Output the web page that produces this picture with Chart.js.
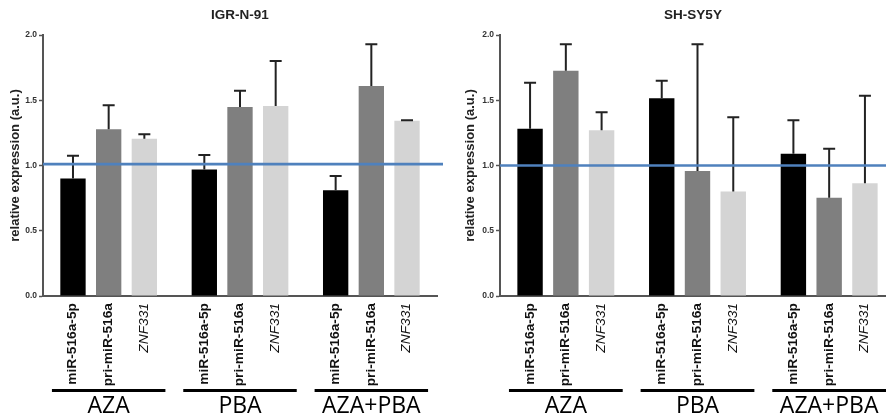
<!DOCTYPE html>
<html>
<head>
<meta charset="utf-8">
<script src="https://cdn.jsdelivr.net/npm/chart.js@4.4.1/dist/chart.umd.min.js"></script>
<style>
    html, body { margin: 0; padding: 0; background: #fff; }
    #wrap { display: flex; width: 886px; height: 419px; }
    .panel { position: relative; width: 443px; height: 419px; overflow: hidden; }
    .inner { position: absolute; left: 0; top: 0; height: 419px; }
</style>
</head>
<body>
<div id="wrap">
    <div class="panel"><div class="inner" style="width:443px"><canvas id="igr"></canvas></div></div>
    <div class="panel"><div class="inner" style="width:452px"><canvas id="shsy"></canvas></div></div>
</div>
<script>
// treatments (x groups) and the three measured transcripts
const groups = ['AZA', 'PBA', 'AZA+PBA'];
const series = ['miR-516a-5p', 'pri-miR-516a', 'ZNF331'];
const yTicks = [0, 0.5, 1.0, 1.5, 2.0];

// IGR-N-91: mean values and upper error (SD) per treatment
const igrMir = [0.90, 0.97, 0.81];
const igrMirErr = [0.175, 0.11, 0.11];
const igrPri = [1.277, 1.448, 1.61];
const igrPriErr = [0.185, 0.125, 0.32];
const igrZnf = [1.205, 1.456, 1.343];
const igrZnfErr = [0.035, 0.345, 0.003];

// SH-SY5Y
const shMir = [1.282, 1.515, 1.09];
const shMirErr = [0.353, 0.135, 0.256];
const shPri = [1.727, 0.958, 0.753];
const shPriErr = [0.203, 0.971, 0.376];
const shZnf = [1.27, 0.80, 0.864];
const shZnfErr = [0.138, 0.569, 0.671];

const barColors = ['#000000', '#7f7f7f', '#d4d4d4'];
const axisColor = '#555';
const family = '"Liberation Sans", Arial, sans-serif';

// error bars, reference line, rotated bar labels, group lines, title
const decor = {
    id: 'decor',
    afterDatasetsDraw(chart, args, opts) {
        const ctx = chart.ctx;
        const y = chart.scales.y;
        ctx.save();
        ctx.strokeStyle = '#222';
        ctx.lineWidth = 2;
        chart.data.datasets.forEach((ds, i) => {
            chart.getDatasetMeta(i).data.forEach((bar, j) => {
                const top = y.getPixelForValue(ds.data[j] + ds.errors[j]);
                ctx.beginPath();
                ctx.moveTo(bar.x, bar.y);
                ctx.lineTo(bar.x, top);
                ctx.moveTo(bar.x - 6, top);
                ctx.lineTo(bar.x + 6, top);
                ctx.stroke();
            });
        });
        // reference line at 1.0
        const by = y.getPixelForValue(opts.baseline);
        ctx.strokeStyle = '#4f81bd';
        ctx.lineWidth = 2.7;
        ctx.beginPath();
        ctx.moveTo(chart.chartArea.left, by);
        ctx.lineTo(chart.width, by);
        ctx.stroke();
        ctx.restore();
    },
    afterDraw(chart, args, opts) {
        const ctx = chart.ctx;
        const area = chart.chartArea;
        const x = chart.scales.x;
        ctx.save();
        ctx.fillStyle = '#111';
        // rotated per-bar labels (slightly stretched, like the original figure)
        chart.data.datasets.forEach((ds, i) => {
            chart.getDatasetMeta(i).data.forEach(bar => {
                ctx.save();
                ctx.translate(bar.x, area.bottom + 7);
                ctx.rotate(-Math.PI / 2);
                ctx.scale(1.1, 1);
                ctx.textAlign = 'right';
                ctx.textBaseline = 'middle';
                ctx.font = (i === 2 ? 'italic ' : 'bold ') + '12.5px ' + family;
                ctx.fillText(ds.label, 0, 0);
                ctx.restore();
            });
        });
        // group underline + treatment name
        const catW = (area.right - area.left) / groups.length;
        groups.forEach((g, j) => {
            const cx = x.getPixelForValue(j);
            ctx.fillStyle = '#000';
            ctx.fillRect(cx - catW * 0.432, area.bottom + 93, catW * 0.864, 3);
            ctx.font = '23px "Open Sans", sans-serif';
            ctx.textAlign = 'center';
            ctx.textBaseline = 'alphabetic';
            ctx.fillText(g, cx, area.bottom + 117);
        });
        // panel title
        ctx.fillStyle = '#222';
        ctx.font = 'bold 13.5px ' + family;
        ctx.textAlign = 'center';
        ctx.textBaseline = 'middle';
        ctx.fillText(opts.title, (area.left + opts.titleRight) / 2, 15);
        ctx.restore();
    }
};

function makeChart(id, title, vals, errs, pad, yWidth, baseline, titleRight) {
    const datasets = series.map((name, i) => ({
        label: name,
        data: vals[i],
        errors: errs[i],
        backgroundColor: barColors[i],
        borderWidth: 0,
        categoryPercentage: 0.815,
        barPercentage: 0.71
    }));
    return new Chart(document.getElementById(id), {
        type: 'bar',
        data: { labels: groups, datasets: datasets },
        plugins: [decor],
        options: {
            responsive: true,
            maintainAspectRatio: false,
            animation: false,
            layout: { padding: { left: pad.left, right: pad.right, top: 35, bottom: 0 } },
            plugins: {
                legend: { display: false },
                tooltip: { enabled: false },
                decor: { title: title, baseline: baseline, titleRight: titleRight }
            },
            scales: {
                x: {
                    grid: { display: false },
                    border: { display: true, color: axisColor, width: 2 },
                    ticks: { display: false },
                    afterFit(s) { s.height = 123; }
                },
                y: {
                    min: 0,
                    max: 2,
                    afterBuildTicks(s) { s.ticks = yTicks.map(v => ({ value: v })); },
                    grid: { drawOnChartArea: false, tickLength: 4, tickColor: axisColor, tickWidth: 1.5 },
                    border: { display: true, color: axisColor, width: 2 },
                    ticks: {
                        padding: 2,
                        color: '#333',
                        font: { family: family, size: 8.5, weight: 'bold' },
                        callback: v => v.toFixed(1)
                    },
                    title: {
                        display: true,
                        text: 'relative expression (a.u.)',
                        color: '#222',
                        padding: 0,
                        font: { family: family, size: 13, weight: 'bold' }
                    },
                    afterFit(s) { s.width = yWidth; }
                }
            }
        }
    });
}

makeChart('igr', 'IGR-N-91',
    [igrMir, igrPri, igrZnf], [igrMirErr, igrPriErr, igrZnfErr],
    { left: 8, right: 6 }, 35, 1.01, 437);
makeChart('shsy', 'SH-SY5Y',
    [shMir, shPri, shZnf], [shMirErr, shPriErr, shZnfErr],
    { left: 20, right: 0 }, 37, 1.0, 443);
</script>
</body>
</html>
